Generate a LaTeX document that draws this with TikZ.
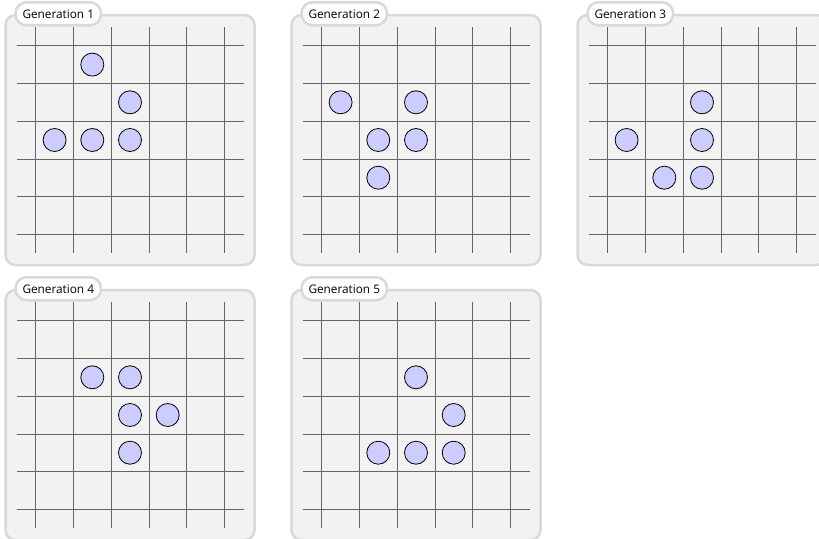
\documentclass[tikz,border=0pt]{standalone}
\usepackage{fontspec}
\setmainfont{Open Sans}
\usetikzlibrary{positioning}

\begin{document}
\begin{tikzpicture}[x=1pt, y=-1pt,
    % Styles
    panel/.style={rectangle, draw=gray!30, line width=2.5pt, fill=gray!10, rounded corners=10pt, minimum width=249pt, minimum height=250pt, inner sep=0pt},
    tag/.style={rectangle, draw=gray!30, line width=2.5pt, fill=white, rounded corners=11pt, minimum height=23pt, inner xsep=7pt, inner ysep=0pt, font=\fontsize{11.8}{13}\selectfont},
    gridline/.style={black!60, line width=0.7pt},
    cell/.style={circle, draw, fill=blue!20, minimum size=23pt, inner sep=0pt, line width=0.8pt},
]
\useasboundingbox (0,0) rectangle (819,538);

% === GENERATIONS: number / centre / live cells ===
\foreach \g/\cx/\cy/\cells in {
    1/130/140/{1/0,2/1,0/2,1/2,2/2},
    2/416/140/{0/1,2/1,1/2,2/2,1/3},
    3/702/140/{2/1,0/2,2/2,1/3,2/3},
    4/130/415/{1/1,2/1,2/2,3/2,2/3},
    5/416/415/{2/1,3/2,1/3,2/3,3/3}}
{
  % Panel and its tag
  \node[panel] (g\g) at (\cx,\cy) {};
  \node[tag, anchor=west] (tag\g) at ([xshift=10pt]g\g.north west) {Generation \g};

  \begin{scope}[shift={(\cx,\cy)}]
    % Grid
    \foreach \k in {0,...,5} {
      \draw[gridline] ({(\k-2.5)*37.7}, -113) -- ({(\k-2.5)*37.7}, 113);
      \draw[gridline] (-113.5, {(\k-2.5)*37.7}) -- (113.5, {(\k-2.5)*37.7});
    }
    % Live cells
    \foreach \i/\j in \cells
      \node[cell] (c\g-\i-\j) at ({(\i-2)*37.7}, {(\j-2)*37.7}) {};
  \end{scope}
}

\end{tikzpicture}
\end{document}
